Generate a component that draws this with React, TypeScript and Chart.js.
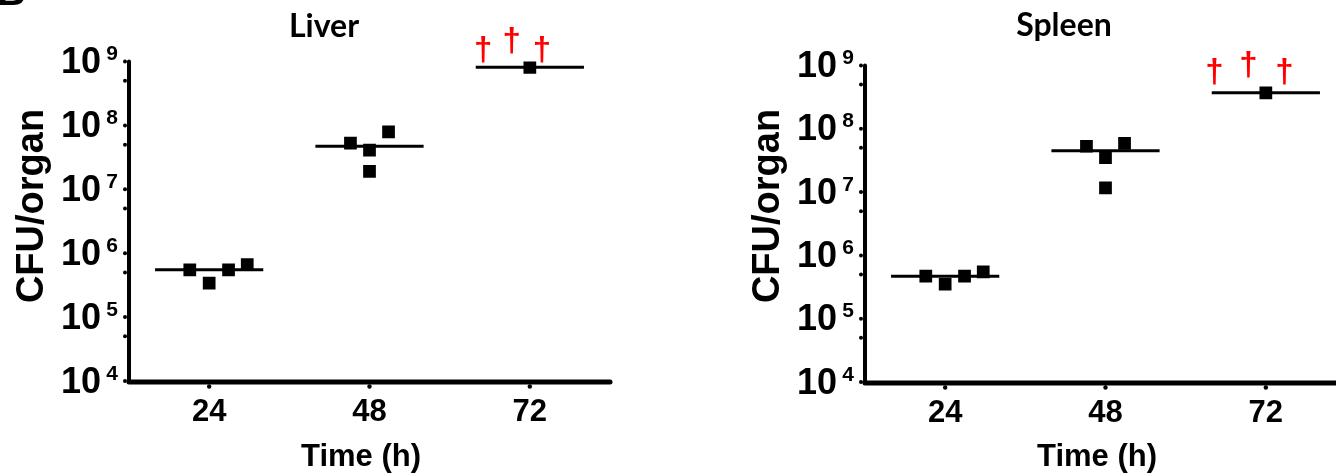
import { useEffect, useRef } from 'react';
import { Chart, registerables } from 'chart.js';

Chart.register(...registerables);

// ---------- data ----------
const TIME_TICKS = [24, 48, 72];
const TIME_TICK_LABELS = ['24', '48', '72'];
const X_MIN = 12;
const X_MAX = 84;

const Y_MIN = 1e4;
const Y_MAX = 1e9;
const Y_TICKS = [1e4, 1e5, 1e6, 1e7, 1e8, 1e9];
const Y_TICK_EXPONENTS = ['4', '5', '6', '7', '8', '9'];
const Y_MINOR_TICKS = [5e4, 5e5, 5e6, 5e7, 5e8];

const LIVER_X = [21.1, 24, 26.9, 29.7, 45.15, 48, 48, 50.85, 72];
const LIVER_CFU = [5.5e5, 3.4e5, 5.5e5, 6.6e5, 5.3e7, 4.1e7, 1.9e7, 7.9e7, 8.1e8];
const LIVER_MEDIAN = [5.5e5, 4.7e7, 8.1e8];
const LIVER_DAGGER_X = [65.0, 69.3, 73.8];
const LIVER_DAGGER_Y = [9.5e8, 1.3e9, 9.5e8];

const SPLEEN_X = [21.1, 24, 26.9, 29.7, 45.15, 48, 48, 50.85, 72];
const SPLEEN_CFU = [4.7e5, 3.5e5, 4.7e5, 5.5e5, 5.3e7, 3.5e7, 1.17e7, 5.9e7, 3.7e8];
const SPLEEN_MEDIAN = [4.7e5, 4.5e7, 3.7e8];
const SPLEEN_DAGGER_X = [64.3, 69.4, 74.8];
const SPLEEN_DAGGER_Y = [4.9e8, 6.3e8, 4.9e8];

const MEDIAN_HALF_SPAN = 8.1; // hours either side of the time point

// ---------- layout / style ----------
const W = 1336;
const H = 476;
const PANEL_W = 668;
const FONT = '"Liberation Sans", Arial, sans-serif';
const TITLE_FONT = 'Lato, "Open Sans", sans-serif';
const DAGGER_FONT = 'bold 33px "Liberation Sans", Arial, sans-serif';

const PANELS = [
  {
    key: 'liver',
    title: 'Liver',
    left: 0,
    top: 61.5,
    bottom: 381,
    titleDX: 195,
    titleY: 37,
    xs: LIVER_X,
    ys: LIVER_CFU,
    medians: LIVER_MEDIAN,
    daggerX: LIVER_DAGGER_X,
    daggerY: LIVER_DAGGER_Y,
    corner: true,
  },
  {
    key: 'spleen',
    title: 'Spleen',
    left: 736,
    top: 65.5,
    bottom: 382,
    titleDX: 199,
    titleY: 36,
    xs: SPLEEN_X,
    ys: SPLEEN_CFU,
    medians: SPLEEN_MEDIAN,
    daggerX: SPLEEN_DAGGER_X,
    daggerY: SPLEEN_DAGGER_Y,
    corner: false,
  },
];

const panelDecor = {
  id: 'panelDecor',
  afterDraw(chart: any, _args: any, opts: any) {
    const { ctx, chartArea: ca } = chart;
    const x = chart.scales.x;
    const y = chart.scales.y;
    ctx.save();
    ctx.fillStyle = '#000';
    ctx.strokeStyle = '#000';
    ctx.lineCap = 'round';

    const axisY = ca.bottom + 1;
    // y axis line
    ctx.lineWidth = 4;
    ctx.beginPath();
    ctx.moveTo(ca.left, ca.top);
    ctx.lineTo(ca.left, axisY);
    ctx.stroke();
    // x axis line
    ctx.lineWidth = 5;
    ctx.beginPath();
    ctx.moveTo(ca.left, axisY);
    ctx.lineTo(ca.right, axisY);
    ctx.stroke();

    // y tick dots
    [...Y_TICKS, ...Y_MINOR_TICKS].forEach((v) => {
      const py = y.getPixelForValue(v);
      ctx.beginPath();
      ctx.arc(ca.left - 4, py, 2, 0, Math.PI * 2);
      ctx.fill();
    });
    // x tick dots
    TIME_TICKS.forEach((t) => {
      const px = x.getPixelForValue(t);
      ctx.beginPath();
      ctx.arc(px, axisY + 4.5, 2.2, 0, Math.PI * 2);
      ctx.fill();
    });

    // y tick labels 10^n
    ctx.textBaseline = 'alphabetic';
    ctx.textAlign = 'right';
    Y_TICKS.forEach((v, i) => {
      const py = y.getPixelForValue(v);
      ctx.font = `bold 36px ${FONT}`;
      ctx.fillText('10', ca.left - 28, py + 11.5);
      ctx.font = `bold 21px ${FONT}`;
      ctx.fillText(Y_TICK_EXPONENTS[i], ca.left - 11, py - 1.5);
    });

    // x tick labels
    ctx.textAlign = 'center';
    ctx.font = `bold 31px ${FONT}`;
    TIME_TICKS.forEach((t, i) => {
      ctx.fillText(TIME_TICK_LABELS[i], x.getPixelForValue(t), ca.bottom + 40);
    });

    // x title
    ctx.fillText('Time (h)', ca.left + 232, 465.5);

    // y title
    ctx.save();
    ctx.translate(ca.left - 86.5, 206);
    ctx.rotate(-Math.PI / 2);
    ctx.font = `bold 38px ${FONT}`;
    ctx.textAlign = 'center';
    ctx.fillText('CFU/organ', 0, 0);
    ctx.restore();

    // panel title
    ctx.font = `bold 32px ${TITLE_FONT}`;
    ctx.textAlign = 'center';
    ctx.fillText(opts.title, ca.left + opts.titleDX, opts.titleY);

    // daggers: bottom of the glyph sits on the data value
    ctx.fillStyle = '#ff0000';
    ctx.textAlign = 'center';
    ctx.textBaseline = 'alphabetic';
    ctx.font = DAGGER_FONT;
    const m1 = ctx.measureText('\u2020');
    let desc = m1.actualBoundingBoxDescent;
    if (!(desc >= 0 && desc < 12)) desc = 6;
    (opts.daggerX as number[]).forEach((dx, i) => {
      const px = x.getPixelForValue(dx);
      const py = y.getPixelForValue(opts.daggerY[i]);
      ctx.fillText('\u2020', px, py - desc);
    });

    // cut-off panel letter at the top-left corner
    if (opts.corner) {
      ctx.fillStyle = '#000';
      ctx.textAlign = 'left';
      ctx.font = `bold 40px ${FONT}`;
      ctx.fillText('B', -3, 5);
    }
    ctx.restore();
  },
};

function buildConfig(p: any) {
  const points = p.xs.map((xv: number, i: number) => ({ x: xv, y: p.ys[i] }));
  const medianSets = TIME_TICKS.map((t, i) => ({
    type: 'line',
    data: [
      { x: t - MEDIAN_HALF_SPAN, y: p.medians[i] },
      { x: t + MEDIAN_HALF_SPAN, y: p.medians[i] },
    ],
    borderColor: '#000',
    borderWidth: 3,
    pointRadius: 0,
    showLine: true,
    fill: false,
  }));
  return {
    type: 'scatter',
    data: {
      datasets: [
        ...medianSets,
        {
          type: 'scatter',
          data: points,
          pointStyle: 'rect',
          pointRadius: 9,
          pointHoverRadius: 9,
          backgroundColor: '#000',
          borderWidth: 0,
        },
      ],
    },
    options: {
      responsive: false,
      animation: false,
      devicePixelRatio: 1,
      events: [],
      layout: {
        padding: { left: 129, right: PANEL_W - 610, top: p.top, bottom: H - p.bottom },
      },
      scales: {
        x: { type: 'linear', min: X_MIN, max: X_MAX, display: false },
        y: { type: 'logarithmic', min: Y_MIN, max: Y_MAX, display: false },
      },
      plugins: {
        legend: { display: false },
        tooltip: { enabled: false },
        title: { display: false },
        panelDecor: {
          title: p.title,
          titleDX: p.titleDX,
          titleY: p.titleY,
          daggerX: p.daggerX,
          daggerY: p.daggerY,
          corner: p.corner,
        },
      },
    },
    plugins: [panelDecor],
  };
}

function Panel({ p }: { p: any }) {
  const ref = useRef<HTMLCanvasElement | null>(null);
  useEffect(() => {
    if (!ref.current) return;
    const chart = new Chart(ref.current, buildConfig(p) as any);
    return () => chart.destroy();
  }, [p]);
  return (
    <div style={{ position: 'absolute', left: p.left, top: 0, width: PANEL_W, height: H }}>
      <canvas ref={ref} width={PANEL_W} height={H} style={{ display: 'block' }} />
    </div>
  );
}

export default function App() {
  return (
    <div
      style={{
        position: 'fixed',
        left: 0,
        top: 0,
        width: W,
        height: H,
        overflow: 'hidden',
        background: '#fff',
      }}
    >
      {PANELS.map((p) => (
        <Panel key={p.key} p={p} />
      ))}
    </div>
  );
}
